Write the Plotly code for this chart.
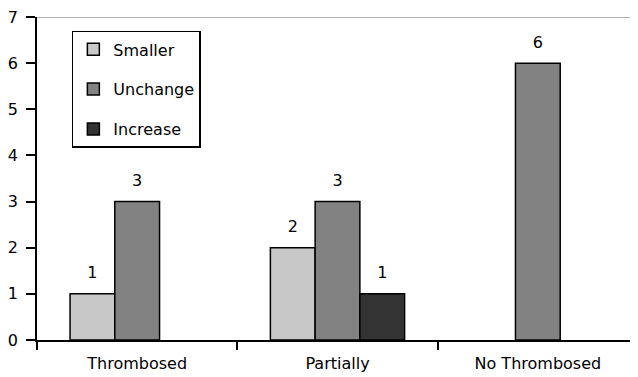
import plotly.graph_objects as go

categories = ["Thrombosed", "Partially", "No Thrombosed"]
smaller = [1, 2, None]
unchange = [3, 3, 6]
increase = [None, 1, None]
y_ticks = [0, 1, 2, 3, 4, 5, 6, 7]

series = [
    ("Smaller", smaller, "#c8c8c8"),
    ("Unchange", unchange, "#828282"),
    ("Increase", increase, "#333333"),
]

FONT = "DejaVu Sans, Liberation Sans, Arial"

fig = go.Figure()
for i, (name, vals, color) in enumerate(series):
    fig.add_trace(go.Bar(
        x=categories, y=vals, name=name,
        marker=dict(color=color, line=dict(color="black", width=1.5)),
        text=[("" if v is None else f"<span style='font-size:16px'>{v}</span><br> ") for v in vals],
        textposition="outside", cliponaxis=False,
        textfont=dict(family=FONT, size=8, color="black"),
        legendgroup=f"g{i}",
    ))

fig.add_shape(type="line", xref="paper", yref="y", x0=0, x1=1, y0=7, y1=7,
              line=dict(color="#999999", width=1.5), layer="below")

fig.update_layout(
    width=630, height=369,
    margin=dict(l=26, r=0, t=8, b=37),
    paper_bgcolor="white", plot_bgcolor="white",
    barmode="group", bargap=0.33, bargroupgap=0,
    font=dict(family=FONT, size=16, color="black"),
    showlegend=True,
    legend=dict(x=0.058, y=0.957, xanchor="left", yanchor="top",
                bordercolor="black", borderwidth=1.5, bgcolor="white",
                traceorder="grouped", tracegroupgap=16,
                itemwidth=30,
                font=dict(family=FONT, size=16)),
    xaxis=dict(showline=True, linecolor="black", linewidth=1.5,
               ticks="outside", tickson="boundaries", ticklen=8,
               tickcolor="black", tickwidth=1.5, showgrid=False,
               ticklabelstandoff=8,
               tickfont=dict(family=FONT, size=16)),
    yaxis=dict(range=[0, 7], tickvals=y_ticks, showline=True,
               linecolor="black", linewidth=1.5, ticks="outside",
               ticklen=9, tickcolor="black", tickwidth=1.5, showgrid=False,
               zeroline=False, ticklabeloverflow="allow",
               ticklabelstandoff=5,
               tickfont=dict(family=FONT, size=16)),
)

fig.write_html("out.html")
